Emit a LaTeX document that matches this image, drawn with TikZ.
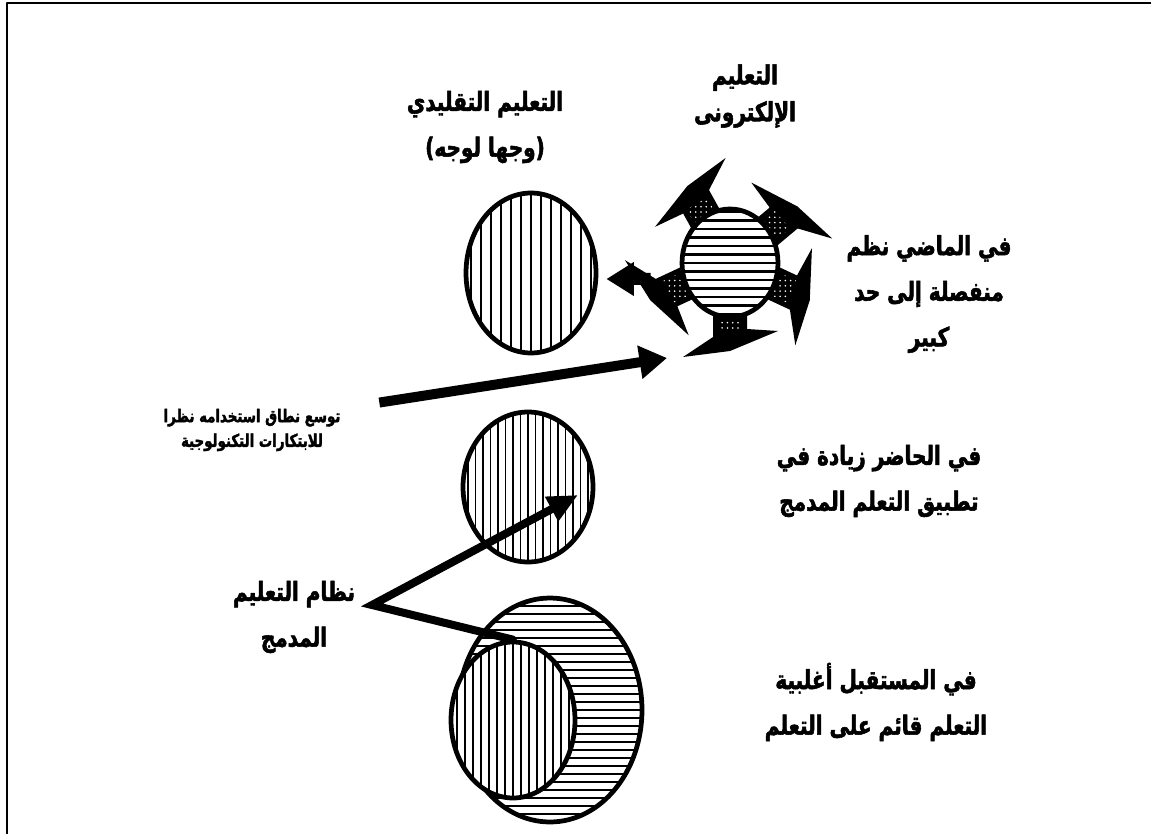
\documentclass[tikz,border=0pt]{standalone}
\usepackage{fontspec}
\newfontfamily\arabicfont[Script=Arabic,FakeStretch=0.76,BoldFeatures={FakeBold=2}]{DejaVu Sans}
\TeXXeTstate=1
\usetikzlibrary{shapes.geometric,arrows.meta,patterns}

\begin{document}
\begin{tikzpicture}[x=0.02cm,y=-0.02cm,line cap=round,line join=round,
	ring/.style={ellipse,draw,line width=2.7pt,fill=white,inner sep=0pt},
	vlines/.style={path picture={\foreach \k in {-25,...,25}
		\draw[line width=1.1pt] ([xshift=\k*#1]path picture bounding box.south) -- ([xshift=\k*#1]path picture bounding box.north);}},
	hlines/.style={path picture={\foreach \k in {-25,...,25}
		\draw[line width=1.3pt] ([yshift=\k*#1]path picture bounding box.west) -- ([yshift=\k*#1]path picture bounding box.east);}},
	lbl/.style={font=\arabicfont\bfseries\fontsize{15}{26}\selectfont,align=center,inner sep=0pt},
	smalllbl/.style={font=\arabicfont\bfseries\fontsize{10}{14}\selectfont,align=center,inner sep=0pt},
	fat/.style={line width=#1,line cap=butt,-{Triangle[length=0.55cm,width=0.64cm]}}]
	\useasboundingbox (0,0) rectangle (1151,834);
	\draw[line width=0.04cm,line cap=butt] (7,834) -- (7,3) -- (1151,3);
	% the circles
	\node[ring,minimum width=2.6cm,minimum height=3.2cm,vlines=0.2cm] (trad) at (531,273) {};
	\node[ring,minimum width=2.6cm,minimum height=3cm,vlines=0.15cm] (now) at (528,487) {};
	\node[ring,minimum width=3.68cm,minimum height=4.48cm,hlines=0.16cm] (later) at (550,710) {};
	\node[ring,minimum width=2.48cm,minimum height=3.12cm,vlines=0.16cm] (mixin) at (513,720) {};
	% e-learning with its arrows
	\coordinate (ec) at (730,263);
	\foreach \a in {40,119,205,270,335}{
		\begin{scope}[shift={(ec)},rotate=\a]
			\fill (42,-17) -- (66,-17) -- (68,-48) -- (88,0) -- (94,47) -- (74,17) -- (42,17) -- cycle;
			\fill[pattern=dots,pattern color=white] (52,-12) rectangle (68,12);
		\end{scope}}
	\node[ring,minimum width=1.92cm,minimum height=2.16cm,hlines=0.17cm] (elearn) at (ec) {};
	% labels
	\node[lbl] (tradlbl) at (485,127) {\beginR التعليم التقليدي\endR\\\beginR(وجها لوجه)\endR};
	\node[lbl] (ellbl) at (745,96) {\beginR التعليم\endR\\[-5pt]\beginR الإلكترونى\endR};
	\node[lbl] (pastlbl) at (929,294) {\beginR في الماضي نظم\endR\\\beginR منفصلة إلى حد\endR\\\beginR كبير\endR};
	\node[lbl] (nowlbl) at (879,481) {\beginR في الحاضر زيادة في\endR\\\beginR تطبيق التعلم المدمج\endR};
	\node[lbl] (laterlbl) at (876,702) {\beginR في المستقبل أغلبية\endR\\\beginR التعلم قائم على التعلم\endR};
	\node[lbl] (blendlbl) at (294,617) {\beginR نظام التعليم\endR\\\beginR المدمج\endR};
	\node[smalllbl] (usage) at (252,430) {\beginR توسع نطاق استخدامه نظرا\endR\\\beginR للابتكارات التكنولوجية\endR};
	% arrows
	\coordinate (hit) at (667,358);
	\coordinate (midtip) at (578,495);
	\coordinate (vtx) at (372,605);
	\draw[fat=0.2cm,shorten <=0.78cm] (usage.north east) -- (hit);
	\draw[fat=0.24cm,shorten <=0.58cm,shorten >=0.16cm] ([yshift=-0.32cm]elearn.west) -- ([yshift=-0.12cm]trad.east);
	\draw[line width=0.16cm,line join=miter,{Triangle[length=0.6cm,width=0.52cm]}-] (midtip) -- (vtx) -- (mixin.north);
\end{tikzpicture}
\end{document}
